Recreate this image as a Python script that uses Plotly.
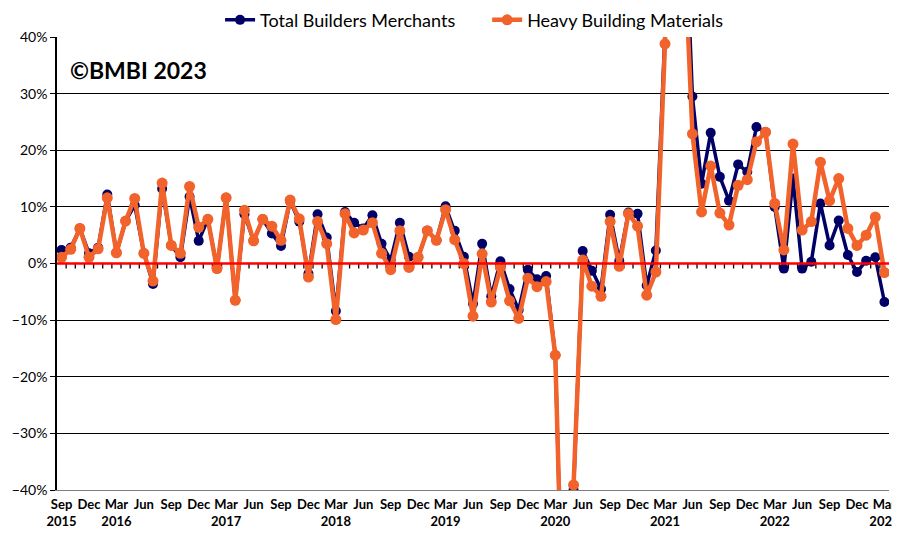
import plotly.graph_objects as go

# monthly year-on-year change, Sep 2015 .. Mar 2023
start_year = 2015
start_month = 9

total_bm = [2.4, 2.8, 6.2, 1.8, 2.8, 12.2, 1.9, 7.5, 10.3, 1.8,
            -3.6, 13.2, 3.2, 1.1, 11.8, 4.0, 7.8, -0.9, 11.6, -6.5,
            8.7, 4.0, 7.8, 5.3, 3.1, 11.0, 7.4, -1.8, 8.7, 4.6,
            -8.4, 9.1, 7.2, 6.2, 8.5, 3.5, 0.6, 7.2, 1.2, 1.1,
            5.8, 4.1, 10.1, 5.8, 1.2, -7.1, 3.5, -5.8, 0.4, -4.5,
            -8.2, -1.1, -2.8, -2.2, -16.2, -76.0, -40.0, 2.2, -1.3, -4.5,
            8.6, 0.5, 9.0, 8.8, -3.9, 2.3, 41.0, 230.0, 70.0, 29.5,
            14.1, 23.1, 15.3, 11.1, 17.5, 16.2, 24.1, 23.2, 10.0, -0.9,
            15.0, -0.9, 0.3, 10.6, 3.2, 7.6, 1.5, -1.5, 0.5, 1.1,
            -6.8]

heavy_bm = [1.1, 2.5, 6.2, 1.1, 2.6, 11.6, 1.9, 7.5, 11.5, 1.8,
            -3.1, 14.2, 3.2, 1.8, 13.6, 6.4, 7.8, -0.9, 11.6, -6.5,
            9.4, 4.0, 7.8, 6.6, 4.1, 11.2, 7.9, -2.4, 7.4, 3.5,
            -9.9, 8.8, 5.4, 5.9, 7.2, 1.8, -1.1, 5.8, -0.7, 1.1,
            5.8, 4.1, 9.5, 4.2, 0.0, -9.3, 1.7, -6.8, -0.7, -6.6,
            -9.7, -2.6, -4.1, -3.2, -16.2, -75.0, -39.1, 0.6, -4.0, -5.8,
            7.4, -0.5, 8.8, 6.6, -5.6, -1.5, 38.8, 220.0, 60.0, 22.9,
            9.1, 17.2, 8.9, 6.8, 13.8, 14.8, 21.5, 23.2, 10.6, 2.4,
            21.1, 5.9, 7.4, 17.9, 11.1, 15.0, 6.2, 3.2, 5.0, 8.2,
            -1.6]

month_names = ["Jan", "Feb", "Mar", "Apr", "May", "Jun",
               "Jul", "Aug", "Sep", "Oct", "Nov", "Dec"]

n = len(total_bm)
idx = list(range(n))

tickvals = []
ticktext = []
for i in range(0, n, 3):
    m = (start_month - 1 + i) % 12
    y = start_year + (start_month - 1 + i) // 12
    lab = month_names[m]
    if i == 0 or m == 2:
        lab = lab + "<br>" + str(y)
    tickvals.append(i)
    ticktext.append(lab)

fnt = "Lato, Carlito, Calibri, sans-serif"
navy = "#000066"
orange = "#F2622B"

fig = go.Figure()

# little tick marks hanging off the zero line, between the months
fig.add_trace(go.Scatter(
    x=[i + 0.5 for i in range(n - 1)], y=[-0.38] * (n - 1),
    mode="markers", showlegend=False, hoverinfo="skip",
    marker=dict(symbol="line-ns", size=4, line=dict(color="black", width=1.3))))

fig.add_trace(go.Scatter(
    x=idx, y=total_bm, name="Total Builders Merchants", legend="legend",
    mode="lines+markers", line=dict(color=navy, width=3.5),
    marker=dict(color=navy, size=10)))

fig.add_trace(go.Scatter(
    x=idx, y=heavy_bm, name="Heavy Building Materials", legend="legend2",
    mode="lines+markers", line=dict(color=orange, width=4.5),
    marker=dict(color=orange, size=11)))

fig.add_shape(type="line", xref="paper", x0=0, x1=1, yref="y", y0=0, y1=0,
              line=dict(color="#FF0000", width=2.5), layer="above")

fig.add_annotation(text="<b>©BMBI 2023</b>", xref="paper", yref="paper",
                   x=0.013, y=0.927, xanchor="left", yanchor="middle",
                   showarrow=False, font=dict(family=fnt, size=23, color="black"))

leg = dict(orientation="h", xanchor="left", y=1.078, yanchor="top",
           font=dict(family=fnt, size=18), itemwidth=30, bgcolor="rgba(0,0,0,0)")

# page body adds an 8px offset, so the figure is a bit smaller than the window
fig.update_layout(
    width=892, height=519,
    margin=dict(l=49, r=11, t=29, b=37, autoexpand=False),
    paper_bgcolor="white", plot_bgcolor="white",
    font=dict(family=fnt, color="black"),
    legend=dict(leg, x=0.196),
    legend2=dict(leg, x=0.517),
    xaxis=dict(range=[-0.5, n - 0.5], showgrid=False, zeroline=False,
               showline=True, linecolor="#7f7f7f", linewidth=1,
               tickvals=tickvals, ticktext=ticktext, ticks="", tickangle=0,
               automargin=False, ticklabelstandoff=2, ticklabeloverflow="allow",
               tickfont=dict(family=fnt, size=13, color="black", weight="bold")),
    yaxis=dict(range=[-40, 40], dtick=10, ticksuffix="%", automargin=False,
               showgrid=True, gridcolor="black", gridwidth=1, zeroline=False,
               showline=True, linecolor="black", linewidth=1.5,
               ticks="outside", ticklen=5, tickcolor="black",
               tickfont=dict(family=fnt, size=14, color="black")),
)

fig.write_html("out.html")
